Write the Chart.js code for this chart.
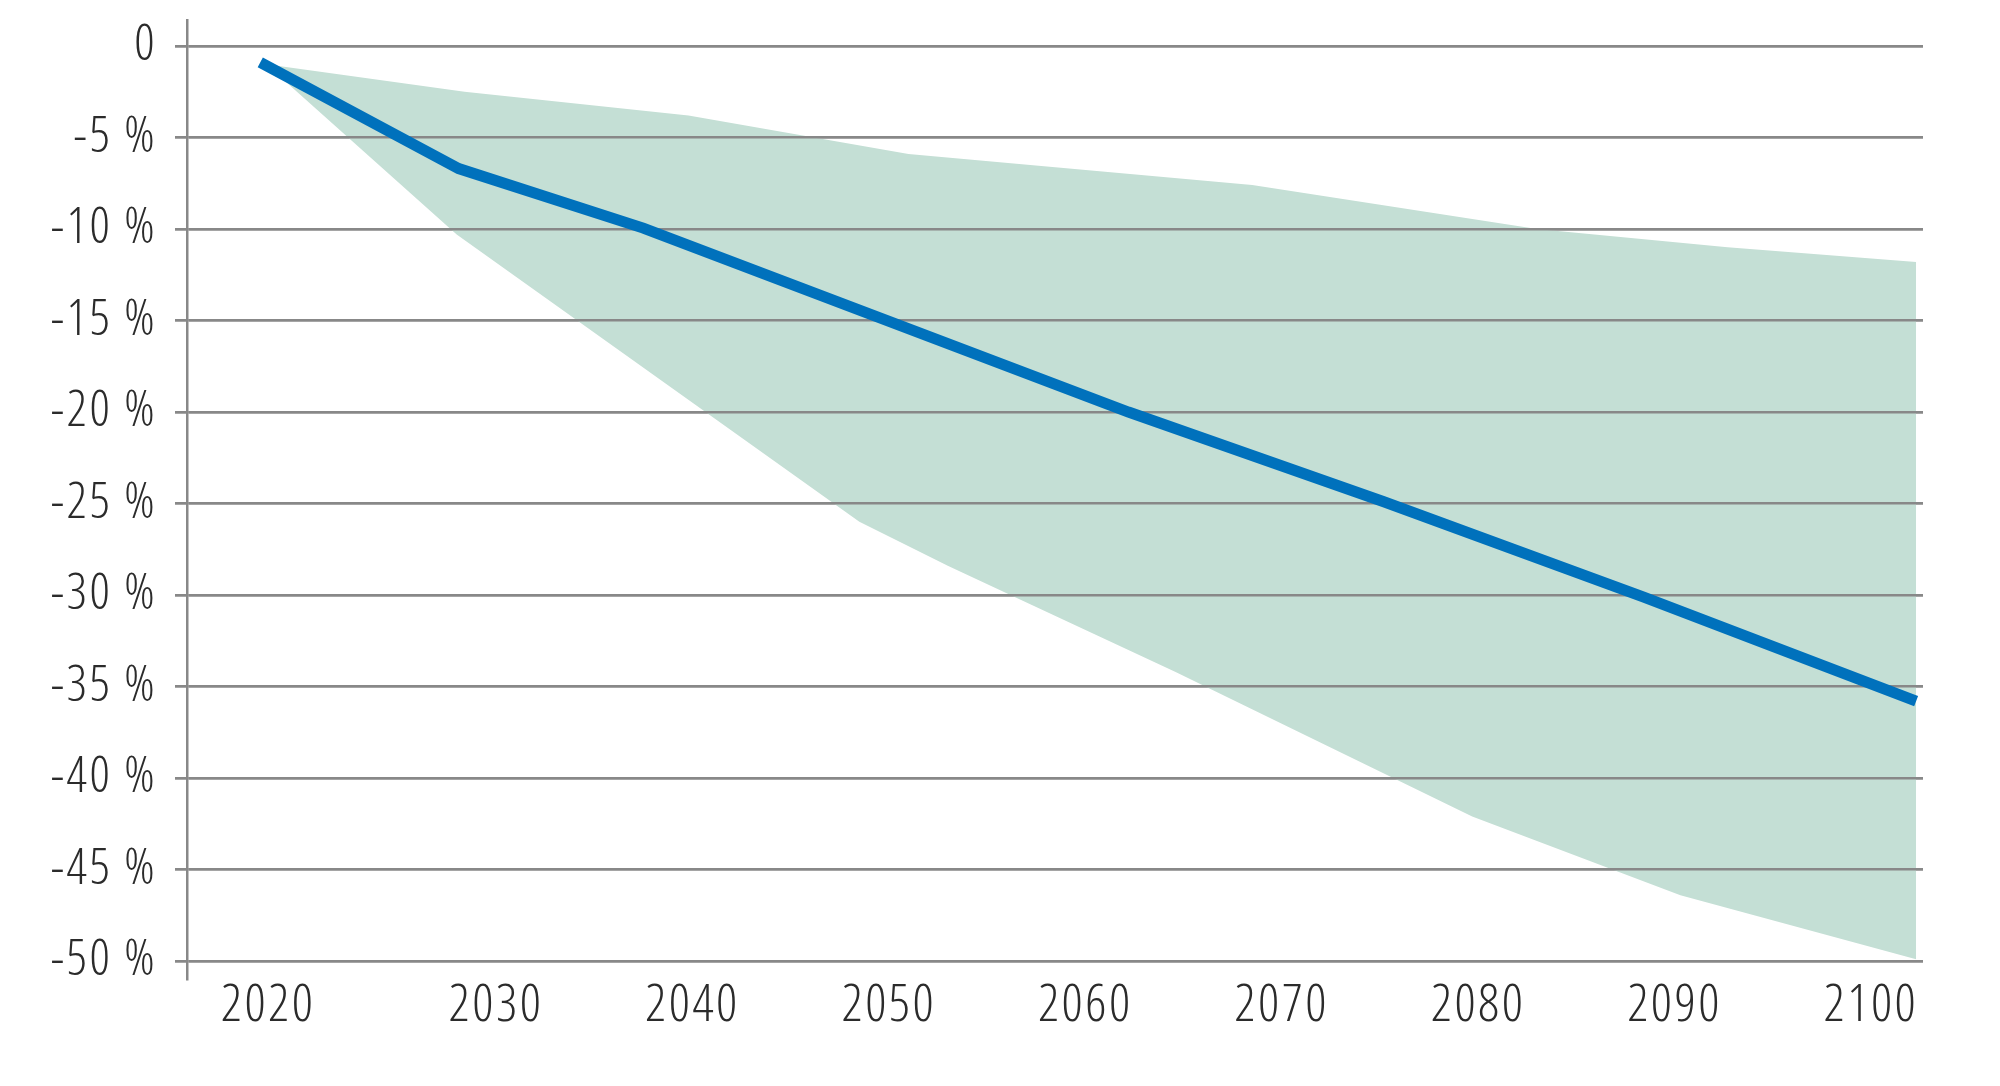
<!DOCTYPE html>
<html>
<head>
<meta charset="utf-8">
<script src="https://cdn.jsdelivr.net/npm/chart.js@4.4.1/dist/chart.umd.min.js"></script>
<style>
  html, body { margin: 0; padding: 0; background: #ffffff; }
  #wrap { width: 2000px; height: 1086px; position: relative; }
</style>
</head>
<body>
<div id="wrap"><canvas id="c"></canvas></div>
<script>
// ---- data ----
const lineYears  = [2018.0, 2028.1, 2037.5, 2062.2, 2075.2, 2088.4, 2102.3];
const lineValues = [-0.9, -6.7, -9.95, -20.0, -24.9, -30.1, -35.8];

const upperYears  = [2018.3, 2028.4, 2039.8, 2051.0, 2057.2, 2068.5, 2083.0, 2092.7, 2102.3];
const upperValues = [-1.0, -2.5, -3.8, -5.9, -6.5, -7.6, -10.0, -11.0, -11.8];

const lowerYears  = [2018.3, 2028.0, 2048.5, 2053.0, 2057.2, 2064.6, 2079.7, 2090.3, 2102.3];
const lowerValues = [-1.0, -10.3, -26.0, -28.4, -30.5, -34.2, -42.1, -46.4, -49.9];

const xTickYears  = [2018.4, 2030, 2040, 2050, 2060, 2070, 2080, 2090, 2100];
const xTickLabels = ['2020', '2030', '2040', '2050', '2060', '2070', '2080', '2090', '2100'];
const yTickValues = [0, -5, -10, -15, -20, -25, -30, -35, -40, -45, -50];

const toPoints = (xs, ys) => xs.map((x, i) => ({ x: x, y: ys[i] }));

// pick a condensed light face if the installed font supports it
function pickFont() {
  const cv = document.createElement('canvas').getContext('2d');
  cv.font = "300 50px 'Open Sans'";
  const wNormal = cv.measureText('2030').width;
  cv.font = "300 condensed 50px 'Open Sans'";
  const wCond = cv.measureText('2030').width;
  if (wCond < wNormal * 0.9) {
    return { family: "'Open Sans'", weight: '300 condensed', xSize: 52, ySize: 50, spacing: '2.5px' };
  }
  return { family: "'DejaVu Sans Condensed'", weight: '300', xSize: 42, ySize: 40, spacing: '0px' };
}
const F = pickFont();
const GRID = '#888888';

// slightly wider letter spacing for the condensed face
const textSpacing = {
  id: 'textSpacing',
  beforeLayout(chart) { chart.ctx.letterSpacing = F.spacing; },
  beforeDraw(chart) { chart.ctx.letterSpacing = F.spacing; }
};

// redraw the y grid above the band but below the blue line
const gridOverBand = {
  id: 'gridOverBand',
  beforeDatasetDraw(chart, args) {
    if (args.index === 0) {
      chart.scales.y.drawGrid(chart.chartArea);
    }
  }
};

new Chart(document.getElementById('c'), {
  type: 'line',
  data: {
    datasets: [
      {
        label: 'Mittel',
        data: toPoints(lineYears, lineValues),
        borderColor: '#0071bc',
        borderWidth: 11,
        borderCapStyle: 'butt',
        borderJoinStyle: 'miter',
        pointRadius: 0,
        fill: false,
        tension: 0,
        order: 0
      },
      {
        label: 'obere Grenze',
        data: toPoints(upperYears, upperValues),
        borderColor: 'rgba(0,0,0,0)',
        borderWidth: 0,
        backgroundColor: '#c4dfd5',
        pointRadius: 0,
        fill: '+1',
        tension: 0,
        order: 1
      },
      {
        label: 'untere Grenze',
        data: toPoints(lowerYears, lowerValues),
        borderColor: 'rgba(0,0,0,0)',
        borderWidth: 0,
        backgroundColor: '#c4dfd5',
        pointRadius: 0,
        fill: false,
        tension: 0,
        order: 2
      }
    ]
  },
  options: {
    responsive: true,
    maintainAspectRatio: false,
    animation: false,
    devicePixelRatio: 1,
    layout: { padding: { left: 0, right: 77, top: 20, bottom: 0 } },
    plugins: {
      legend: { display: false },
      tooltip: { enabled: false },
      filler: { propagate: false }
    },
    scales: {
      x: {
        type: 'linear',
        min: 2014.27,
        max: 2102.65,
        grid: { display: false, drawTicks: false },
        border: { display: false },
        afterBuildTicks: (scale) => { scale.ticks = xTickYears.map(v => ({ value: v })); },
        afterFit: (scale) => { scale.height = 107; scale.paddingLeft = 0; scale.paddingRight = 0; },
        ticks: {
          autoSkip: false,
          maxRotation: 0,
          padding: 1,
          color: '#2b2b2b',
          font: { family: F.family, weight: F.weight, size: F.xSize, lineHeight: 1.0 },
          callback: (value, index) => xTickLabels[index]
        }
      },
      y: {
        type: 'linear',
        min: -50.98,
        max: 1.42,
        grid: { color: GRID, lineWidth: 2.5, drawTicks: true, tickLength: 12 },
        border: { display: true, color: GRID, width: 2.5 },
        afterBuildTicks: (scale) => { scale.ticks = yTickValues.map(v => ({ value: v })); },
        afterFit: (scale) => { scale.width = 187; scale.paddingTop = 0; scale.paddingBottom = 0; },
        ticks: {
          padding: 18,
          color: '#2b2b2b',
          font: { family: F.family, weight: F.weight, size: F.ySize },
          callback: (value) => value === 0 ? '0' : value + ' %'
        }
      }
    }
  },
  plugins: [textSpacing, gridOverBand]
});
</script>
</body>
</html>
